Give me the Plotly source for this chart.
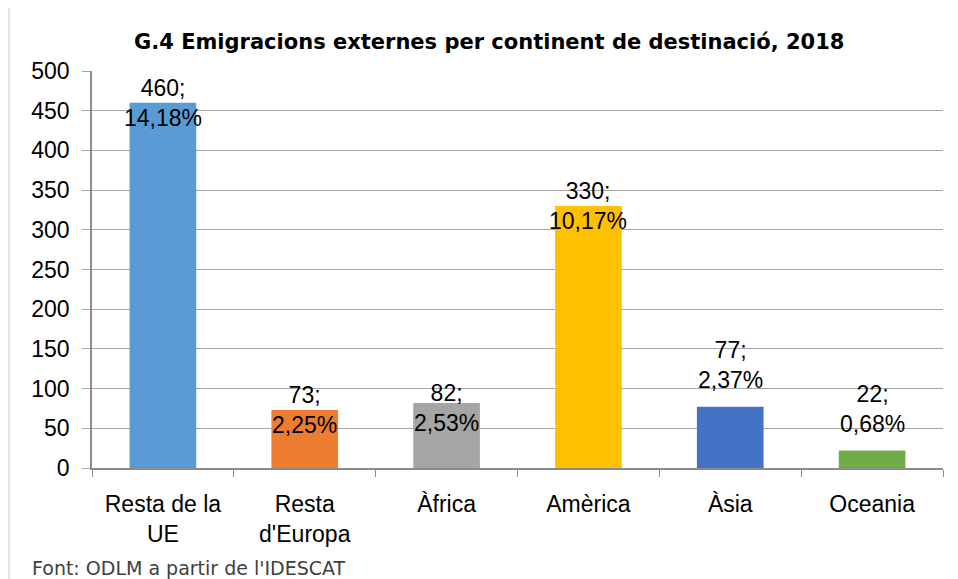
import plotly.graph_objects as go

categories = ["Resta de la<br>UE", "Resta<br>d'Europa", "Àfrica", "Amèrica", "Àsia", "Oceania"]
values = [460, 73, 82, 330, 77, 22]
percents = ["14,18%", "2,25%", "2,53%", "10,17%", "2,37%", "0,68%"]
colors = ["#5B9BD5", "#ED7D31", "#A5A5A5", "#FFC000", "#4472C4", "#70AD47"]
label_shift = [0, 0, -5, 0, 42, 42]
y_ticks = list(range(0, 501, 50))

fig = go.Figure()
fig.add_trace(go.Bar(x=categories, y=values, marker_color=colors, width=0.47,
                     marker_line_width=0, hoverinfo="skip"))

for c, v, p, s in zip(categories, values, percents, label_shift):
    fig.add_annotation(x=c, y=v, text=f"{v};<br>{p}", showarrow=False,
                       yanchor="middle", xanchor="center", yshift=s,
                       font=dict(family="Liberation Sans", size=23, color="#000000"))

fig.add_annotation(text="G.4 Emigracions externes per continent de destinació, 2018",
                   xref="paper", yref="paper", x=0.467, y=1.073, showarrow=False,
                   xanchor="center", yanchor="middle",
                   font=dict(family="DejaVu Sans", size=21, color="#000000", weight="bold"))
fig.add_annotation(text="Font: ODLM a partir de l'IDESCAT",
                   xref="paper", yref="paper", x=-0.0729, y=-0.252, showarrow=False,
                   xanchor="left", yanchor="middle",
                   font=dict(family="DejaVu Sans", size=19, color="#404040"))

fig.add_shape(type="rect", xref="paper", yref="paper", x0=-0.0975, x1=1.05, y0=-0.4, y1=1.161,
              line=dict(color="#D9D9D9", width=1.5), fillcolor="rgba(0,0,0,0)", layer="below")

fig.update_layout(
    width=958, height=579,
    margin=dict(l=84, r=23, t=63, b=119, autoexpand=False),
    plot_bgcolor="white", paper_bgcolor="white",
    showlegend=False,
    bargap=0.53,
)
fig.update_xaxes(showline=True, linecolor="#8C8C8C", linewidth=1.5,
                 ticks="outside", ticklen=7, tickcolor="#8C8C8C",
                 tickson="boundaries", ticklabelstandoff=15,
                 tickfont=dict(family="Liberation Sans", size=23, color="#000000"),
                 showgrid=False, automargin=False)
fig.update_yaxes(range=[0, 500], tickvals=y_ticks, showline=True, linecolor="#8C8C8C", linewidth=1.5,
                 gridcolor="#A6A6A6", gridwidth=1.2,
                 ticks="outside", ticklen=8, tickcolor="#A6A6A6", ticklabelstandoff=8,
                 tickfont=dict(family="Liberation Sans", size=23, color="#000000"),
                 zeroline=False, automargin=False)

fig.write_html("out.html")
